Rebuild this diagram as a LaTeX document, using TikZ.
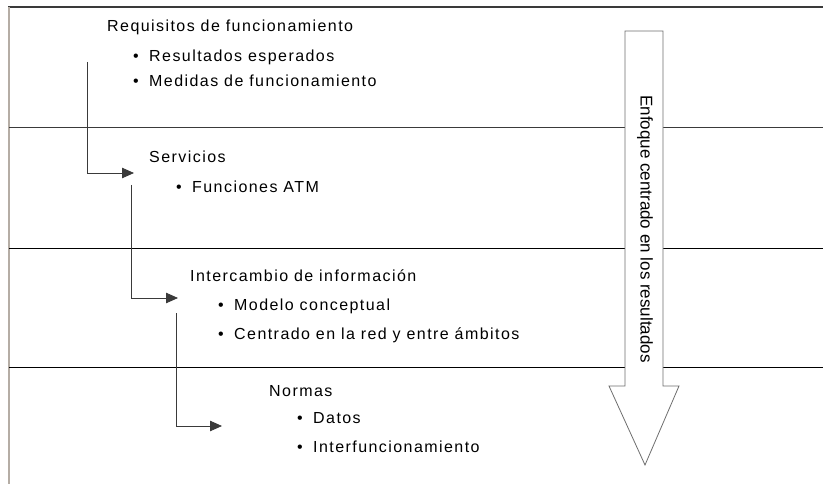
\documentclass[tikz,border=0pt]{standalone}
\usepackage{fontspec}
\setmainfont{Liberation Sans}[LetterSpace=9]
\newfontfamily\vertfont{Liberation Sans}
\usetikzlibrary{arrows.meta}
\definecolor{linegray}{HTML}{3A3A3A}
\definecolor{leftgray}{HTML}{B5ADA5}
\definecolor{arrowgray}{HTML}{6E6E6E}
\tikzset{
  lbl/.style={anchor=base west, inner sep=0pt, font=\fontsize{16}{19}\selectfont},
  conn/.style={draw=linegray, line width=0.8pt, -{Triangle[length=12pt,width=10.5pt]}},
  sep/.style={draw=black, line width=0.9pt},
  bigarrow/.style={draw=arrowgray, fill=white, line width=0.8pt, line join=miter},
}
\newcommand{\bul}{\makebox[16pt][l]{\textbullet}}
\begin{document}
\begin{tikzpicture}[x=1pt,y=-1pt]
\useasboundingbox (0,0) rectangle (823,484);
% frame
\draw[draw=linegray, line width=1.6pt] (8,7) -- (823,7);
\draw[draw=leftgray, line width=1.8pt] (9,7) -- (9,484);
% separators
\draw[sep, draw=linegray] (9,127) -- (823,127);
\draw[sep] (9,248) -- (823,248);
\draw[sep] (9,367) -- (823,367);
% big arrow
\draw[bigarrow] (625,31) -- (663,31) -- (663,386) -- (679,386) -- (645,465) -- (609,386) -- (625,386) -- cycle;
\node[inner sep=0pt, rotate=-90, font=\vertfont\fontsize{17}{20}\selectfont] (focus) at (645,229) {Enfoque centrado en los resultados};
% texts
\node[lbl] (req) at (107,32) {Requisitos de funcionamiento};
\node[lbl] (res) at (133,62) {\bul Resultados esperados};
\node[lbl] (med) at (133,87) {\bul Medidas de funcionamiento};
\node[lbl] (serv) at (149,163) {Servicios};
\node[lbl] (func) at (176,193) {\bul Funciones ATM};
\node[lbl] (inter) at (190,282) {Intercambio de información};
\node[lbl] (mod) at (218,310) {\bul Modelo conceptual};
\node[lbl] (cen) at (218,339) {\bul Centrado en la red y entre ámbitos};
\node[lbl] (norm) at (269,396) {Normas};
\node[lbl] (dat) at (297,423) {\bul Datos};
\node[lbl] (interf) at (297,452) {\bul Interfuncionamiento};
% connectors
\coordinate (c1s) at (87,62);
\coordinate (c1e) at (134,173);
\coordinate (c2s) at (131,185);
\coordinate (c2e) at (178,298);
\coordinate (c3s) at (176,313);
\coordinate (c3e) at (222,426);
\draw[conn] (c1s) |- (c1e);
\draw[conn] (c2s) |- (c2e);
\draw[conn] (c3s) |- (c3e);
\end{tikzpicture}
\end{document}
